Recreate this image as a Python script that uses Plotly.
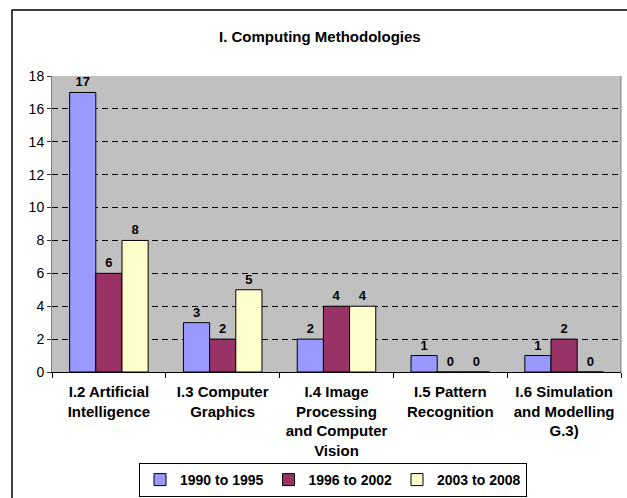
import plotly.graph_objects as go

categories = [
    "I.2 Artificial<br>Intelligence",
    "I.3 Computer<br>Graphics",
    "I.4 Image<br>Processing<br>and Computer<br>Vision",
    "I.5 Pattern<br>Recognition",
    "I.6 Simulation<br>and Modelling<br>G.3)",
]
series_names = ["1990 to 1995", "1996 to 2002", "2003 to 2008"]
values_1990_1995 = [17, 3, 2, 1, 1]
values_1996_2002 = [6, 2, 4, 0, 2]
values_2003_2008 = [8, 5, 4, 0, 0]
colors = ["#9999FF", "#993366", "#FFFFCC"]
y_ticks = [0, 2, 4, 6, 8, 10, 12, 14, 16, 18]

FONT = "Liberation Sans, Arial, sans-serif"

fig = go.Figure()
for name, vals, col in zip(series_names,
                           [values_1990_1995, values_1996_2002, values_2003_2008],
                           colors):
    fig.add_trace(go.Bar(
        x=categories, y=vals, name=name,
        marker=dict(color=col, line=dict(color="black", width=1)),
        text=[str(v) for v in vals], textposition="outside",
        textfont=dict(family=FONT, size=13, color="black", weight="bold"),
        cliponaxis=False,
    ))

W, H = 627, 498
L, R, T, B = 52, 6, 76, 126
pw = W - L - R
ph = H - T - B

def px_x(p):
    return (p - L) / pw

def px_y(p):
    return (H - B - p) / ph

fig.update_layout(
    width=W, height=H,
    margin=dict(l=L, r=R, t=T, b=B, autoexpand=False),
    paper_bgcolor="white",
    plot_bgcolor="#C0C0C0",
    barmode="group",
    bargap=0.31,
    bargroupgap=0,
    font=dict(family=FONT, size=13, color="black"),
    showlegend=True,
    legend=dict(
        orientation="h",
        x=px_x(333), xanchor="center",
        y=px_y(497), yanchor="bottom",
        bordercolor="black", borderwidth=1,
        font=dict(family=FONT, size=14, color="black", weight="bold"),
        itemwidth=30,
        tracegroupgap=0,
    ),
    xaxis=dict(
        tickson="boundaries",
        ticks="outside", ticklen=5, tickcolor="black",
        ticklabelstandoff=6,
        showline=True, linecolor="black", linewidth=1,
        tickfont=dict(family=FONT, size=15, color="black", weight="bold"),
        showgrid=False,
    ),
    yaxis=dict(
        range=[0, 18],
        tickvals=y_ticks,
        ticks="outside", ticklen=4, tickcolor="#333333",
        showline=True, linecolor="#808080", linewidth=1,
        tickfont=dict(family=FONT, size=14, color="black"),
        showgrid=True, gridcolor="black", gridwidth=1,
        griddash="6px,4px",
        zeroline=False,
    ),
    shapes=[
        dict(type="line", xref="paper", yref="paper", x0=1, x1=1, y0=0, y1=1,
             line=dict(color="#808080", width=1)),
        dict(type="rect", xref="paper", yref="paper",
             x0=px_x(12), x1=px_x(640), y0=px_y(10), y1=px_y(510),
             line=dict(color="black", width=1.5), layer="above"),
    ],
    annotations=[
        dict(text="<b>I. Computing Methodologies</b>", xref="paper", yref="paper",
             x=px_x(320), y=px_y(36), xanchor="center", yanchor="middle",
             showarrow=False, font=dict(family=FONT, size=15, color="black")),
    ],
)

fig.write_html(
    "out.html",
    config={"displayModeBar": False},
    post_script="document.body.style.margin='0';document.body.style.overflow='hidden';",
)
